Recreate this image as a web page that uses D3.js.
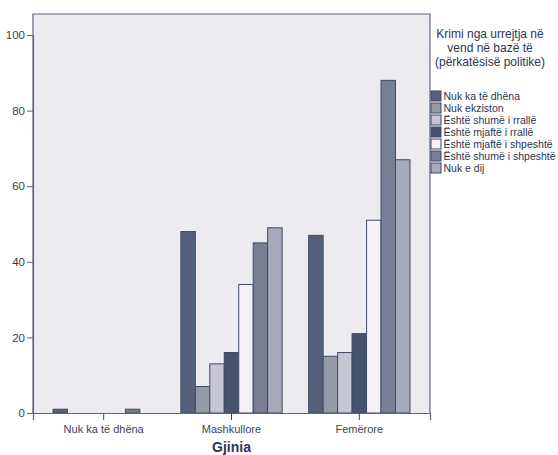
<!DOCTYPE html>
<html><head><meta charset="utf-8">
<script src="https://cdn.jsdelivr.net/npm/d3@7"></script>
<style>body{margin:0;background:#fff}svg{display:block}</style>
</head><body>
<script>
const categories = ["Nuk ka të dhëna", "Mashkullore", "Femërore"];
const seriesNames = ["Nuk ka të dhëna", "Nuk ekziston", "Është shumë i rrallë", "Është mjaftë i rrallë", "Është mjaftë i shpeshtë", "Është shumë i shpeshtë", "Nuk e dij"];
const values = [
  [1, 48, 47],
  [0, 7, 15],
  [0, 13, 16],
  [0, 16, 21],
  [0, 34, 51],
  [1, 45, 88],
  [0, 49, 67]
];
const yTicks = [0, 20, 40, 60, 80, 100];
const colors = ["#566179", "#959aa9", "#c6c6d2", "#46526f", "#f4f2f6", "#777f95", "#a7abb9"];
const legendTitle = ["Krimi nga urrejtja në", "vend në bazë të", "(përkatësisë politike)"];
const xTitle = "Gjinia";

const W = 558, H = 455;
const svg = d3.select("body").append("svg").attr("width", W).attr("height", H);
const L = 33, R = 430, T = 14, B = 413;
const y = d3.scaleLinear().domain([0, 100]).range([B, 35]);
const x = d3.scaleBand().domain(categories).range([L, R]).paddingOuter(0.053).paddingInner(0);
const barW = 14.47;
const inner = d3.scaleBand().domain(d3.range(seriesNames.length)).range([0, barW * seriesNames.length]);

svg.append("rect").attr("x", L).attr("y", T).attr("width", R - L).attr("height", B - T).attr("fill", "#eeebf0");

const g = svg.append("g");
seriesNames.forEach((s, si) => {
  categories.forEach((c, ci) => {
    const v = values[si][ci];
    if (!v) return;
    const gx = x(c) + x.bandwidth() / 2 - inner.range()[1] / 2 + inner(si);
    g.append("rect").attr("x", gx).attr("y", y(v)).attr("width", inner.bandwidth()).attr("height", B - y(v))
      .attr("fill", colors[si]).attr("stroke", "#3e4a66").attr("stroke-width", 1);
  });
});

// frame
svg.append("path").attr("d", `M${L},${B}V${T}H${R}V${B}`).attr("fill", "none").attr("stroke", "#5d6782").attr("stroke-width", 1.2);

const yAxis = svg.append("g").attr("transform", `translate(${L},0)`)
  .call(d3.axisLeft(y).tickValues(yTicks).tickSize(6).tickPadding(2));
yAxis.select(".domain").attr("stroke", "#5d6782").attr("stroke-width", 1.2);
yAxis.selectAll("line").attr("stroke", "#5d6782");
yAxis.selectAll("text").attr("font-family", "Liberation Sans, Arial, sans-serif").attr("font-size", 11.5).attr("fill", "#3c3c46");

const xAxis = svg.append("g").attr("transform", `translate(0,${B})`)
  .call(d3.axisBottom(x).tickSize(7).tickPadding(5));
xAxis.select(".domain").attr("stroke", "#5d6782").attr("stroke-width", 1.2);
xAxis.selectAll("line").attr("stroke", "#3e4a66");
xAxis.selectAll("text").attr("font-family", "Liberation Sans, Arial, sans-serif").attr("font-size", 11).attr("fill", "#3c4258");

svg.append("text").attr("x", x("Mashkullore") + x.bandwidth() / 2).attr("y", 452).attr("text-anchor", "middle")
  .attr("font-family", "Liberation Sans, Arial, sans-serif").attr("font-weight", "bold").attr("font-size", 14).attr("fill", "#2c3552").text(xTitle);

const lg = svg.append("g");
legendTitle.forEach((t, i) => {
  lg.append("text").attr("x", 490).attr("y", 38 + i * 14).attr("text-anchor", "middle")
    .attr("font-family", "Liberation Sans, Arial, sans-serif").attr("font-size", 12).attr("fill", "#2c3552").text(t);
});
seriesNames.forEach((s, i) => {
  const yy = 91 + i * 12;
  lg.append("rect").attr("x", 431).attr("y", yy).attr("width", 10).attr("height", 10)
    .attr("fill", colors[i]).attr("stroke", "#3e4a66").attr("stroke-width", 1);
  lg.append("text").attr("x", 443.5).attr("y", yy + 9).attr("font-family", "Liberation Sans, Arial, sans-serif").attr("font-size", 10.5)
    .attr("fill", "#2c3552").text(s);
});
</script>
</body></html>
